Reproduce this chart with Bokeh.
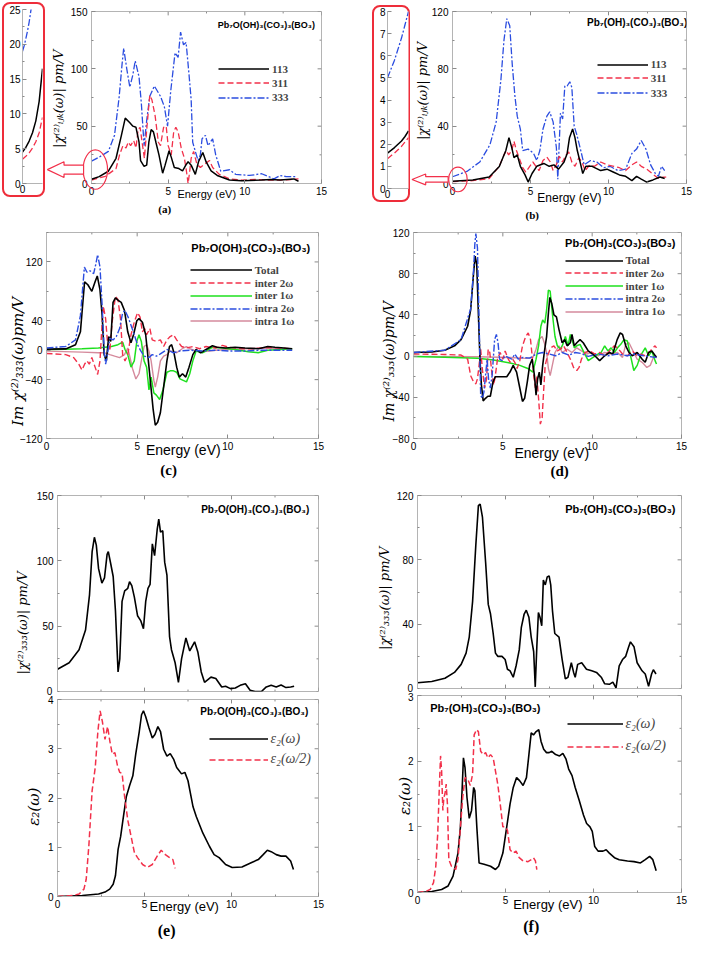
import numpy as np
from bokeh.plotting import figure
from bokeh.layouts import row, column
from bokeh.models import (Range1d, FixedTicker, Label, Legend, LegendItem, Spacer)
from bokeh.embed import file_html
from bokeh.resources import INLINE

# ---------------- data (energy in eV) ----------------
A_113 = [(0,3.7),(0.5,6),(1.1,10.7),(1.6,22),(1.95,42),(2.2,57),(2.5,53),(2.7,50),(2.9,49),(3.1,36),
         (3.2,20),(3.43,15),(3.6,16),(3.74,36),(3.89,47),(4.04,45),(4.2,36),(4.4,25),(4.64,9),(4.8,16),
         (5.06,28.5),(5.2,23),(5.4,14),(5.7,13),(5.94,11),(6.15,16),(6.3,19),(6.5,16),(6.77,8),(6.98,19),
         (7.26,27),(7.47,19),(7.8,11),(8.2,7),(9.0,3),(9.8,2.5),(11.1,3),(11.7,3.5),(12.3,3),(13.2,4),(13.5,2)]
A_311 = [(0,3),(0.9,6.3),(1.6,13),(1.83,25),(2.05,33),(2.25,31),(2.4,36),(2.55,33),(2.75,37.5),(2.9,31),
         (3.04,47),(3.17,49),(3.3,36),(3.45,22),(3.62,50),(3.8,77),(3.94,73),(4.15,59),(4.36,36),(4.5,33),
         (4.7,49),(4.87,50),(5.0,33),(5.2,25),(5.36,45),(5.5,49),(5.65,45),(5.85,31),(6.06,22),(6.2,10),
         (6.3,0),(6.4,10),(6.5,22),(6.66,28),(6.87,17),(7.1,14),(7.38,17),(7.7,20),(7.9,14),(8.33,8),
         (9.0,4),(9.8,3),(10.7,3.5),(11.5,3),(12.3,3),(13.0,3.5),(13.5,4)]
A_333 = [(0,19.5),(0.5,23),(1.1,28),(1.5,42),(1.8,75),(2.0,105),(2.1,118),(2.3,100),(2.5,84),(2.7,95),
         (2.85,107),(3.1,93),(3.25,70),(3.43,33),(3.6,55),(3.8,76),(4.1,85),(4.5,76),(4.75,67),(4.96,50),
         (5.17,81),(5.45,114),(5.65,110),(5.81,132),(6.0,121),(6.17,123),(6.36,95),(6.5,73),(6.6,36),
         (6.77,28),(6.95,20),(7.1,25),(7.21,39),(7.43,42),(7.6,33),(7.9,39),(8.1,25),(8.43,10.7),(9.0,12),
         (9.4,8),(10.3,7),(11.1,8.5),(11.9,4),(12.3,7),(12.7,6),(13.1,6),(13.4,6)]
A_IN_113 = [(0,4.5),(0.2,5.2),(0.4,6.1),(0.6,7.3),(0.8,9.0),(1.0,11.8),(1.2,16.5)]
A_IN_311 = [(0,3.5),(0.2,3.9),(0.4,4.4),(0.6,5.1),(0.8,6.0),(1.0,7.3),(1.2,9.5)]
A_IN_333 = [(0,19),(0.1,19.8),(0.2,20.8),(0.3,21.9),(0.4,23.2),(0.5,24.8),(0.6,26.5)]

B_113 = [(0,1.5),(1.3,2.5),(2.35,4.6),(3.0,11.8),(3.42,23),(3.62,32),(3.8,25),(3.94,18),(4.15,20),
         (4.35,12),(4.65,6),(4.85,1),(5.1,7),(5.4,12),(5.85,14),(6.2,12),(6.5,13),(6.8,10),(7.15,15),
         (7.35,21),(7.5,32),(7.7,38),(7.85,32),(8.0,23),(8.2,14),(8.35,7),(8.55,12),(8.95,12),(9.5,9),
         (9.9,10),(10.3,8),(10.7,6),(11.1,5),(11.5,2),(11.8,5),(12.1,3),(12.45,1),(12.85,2.5),(13.3,4.5),(13.6,3.5)]
B_311 = [(0,1.3),(1.3,2),(2.35,3.5),(3.0,12),(3.3,20),(3.45,23),(3.6,20),(3.8,23),(3.94,29.5),(4.1,23),
         (4.3,17),(4.5,11),(4.7,8),(4.95,12),(5.15,15),(5.35,12),(5.55,9),(5.8,16),(6.05,18.5),(6.27,15),
         (6.45,9),(6.65,13),(6.85,19),(7.05,15),(7.25,19.5),(7.45,22),(7.65,15),(7.85,12),(8.1,18),(8.3,15),
         (8.5,9),(8.8,13),(9.1,12),(9.5,15),(9.9,13),(10.35,12),(10.7,11),(11.1,9),(11.5,13),(11.8,15),
         (12.1,12),(12.45,10),(12.85,6.5),(13.2,3.5),(13.5,4.5),(13.7,4.5)]
B_333 = [(0,4.7),(0.92,8.4),(1.75,15),(2.4,27),(2.8,43),(3.1,72),(3.3,100),(3.48,115),(3.67,110),(3.83,83),
         (4.0,61),(4.15,47),(4.35,38),(4.5,23),(4.85,24),(5.2,21),(5.4,16),(5.6,23),(5.8,38),(6.05,47),
         (6.23,50),(6.45,43),(6.66,25),(6.75,3),(6.92,49),(7.06,45),(7.2,68),(7.35,68),(7.52,71),(7.65,67),
         (7.8,40),(7.97,34),(8.2,24),(8.44,13),(8.85,16),(9.25,15),(9.7,11),(10.1,12),(10.6,9),(11.1,10),
         (11.5,21),(11.8,24),(12.1,30),(12.4,24),(12.7,13),(13.0,7),(13.2,5),(13.4,12),(13.6,9)]
B_IN_113 = [(0,1.6),(0.2,1.72),(0.4,1.85),(0.6,2.0),(0.8,2.15),(1.0,2.35),(1.2,2.6)]
B_IN_311 = [(0,1.35),(0.2,1.48),(0.4,1.6),(0.6,1.75),(0.8,1.9),(1.0,2.1),(1.2,2.3)]
B_IN_333 = [(0,5.0),(0.2,5.4),(0.4,5.8),(0.6,6.3),(0.8,6.8),(1.0,7.4),(1.2,8.0)]

C_TOTAL = [(0,1.5),(1.06,1.8),(1.6,7.5),(1.87,25),(2.1,93),(2.28,89),(2.5,80),(2.68,93),(2.8,101),(2.95,82),
           (3.07,47),(3.18,-6),(3.3,-14.5),(3.43,18.5),(3.54,12),(3.67,65),(3.8,71),(3.94,68),(4.12,65),
           (4.3,54),(4.48,25),(4.66,10),(4.8,21),(4.98,40),(5.1,43),(5.29,38),(5.47,21),(5.6,-10),(5.74,-45),
           (5.88,-80),(6.0,-102),(6.13,-98),(6.28,-85),(6.46,-50),(6.64,-14.5),(6.78,5),(6.9,7.5),(7.03,-3.5),
           (7.18,-23),(7.32,-36.5),(7.5,-32),(7.68,-36.5),(7.86,-23),(8.07,-6),(8.25,1),(8.5,-3.5),(8.8,1),
           (9.15,6),(9.4,4),(9.87,3),(10.4,4),(10.95,3),(11.7,2),(12.2,5),(12.6,4),(13.1,3),(13.55,2)]
C_INTER2 = [(0,-4.4),(1.06,-6),(1.5,-10),(1.78,-19),(1.96,-27),(2.1,-19),(2.23,-14.5),(2.36,-19),(2.5,-10),
            (2.68,-23),(2.82,-33),(2.95,-14.5),(3.04,25),(3.13,60),(3.26,43),(3.36,12),(3.49,-1),(3.62,38),
            (3.8,73),(3.94,69),(4.08,43),(4.2,-6),(4.33,-14.5),(4.48,-6),(4.66,21),(4.84,38),(5.02,51),
            (5.16,45),(5.29,25),(5.41,29.5),(5.52,21),(5.7,29.5),(5.83,14),(6.06,12),(6.28,14),(6.46,5),
            (6.64,14),(6.82,18.5),(7.0,21),(7.18,14),(7.45,5),(7.7,3),(8.07,5),(8.44,2),(8.8,5),(9.33,3),
            (9.7,6.5),(10.05,4),(10.77,2),(11.5,2),(12.2,4),(12.9,3),(13.55,2)]
C_INTER1 = [(0,1),(1.06,1.3),(1.96,2),(2.86,3),(3.58,5),(3.94,7.5),(4.2,11),(4.33,1),(4.48,-6),(4.66,-23),
            (4.84,-14.5),(4.98,12),(5.1,21),(5.23,12),(5.38,-14.5),(5.52,-23),(5.65,-54),(5.77,-36.5),
            (5.92,-58),(6.06,-61),(6.24,-67),(6.42,-54),(6.64,-30),(6.82,-28),(7.0,-28),(7.18,-30),(7.36,-39),
            (7.54,-41),(7.72,-43),(7.9,-32),(8.07,-14.5),(8.25,-1),(8.6,-3.5),(9.15,4),(9.7,3),(10.4,1),
            (11.13,-2),(11.67,-3.5),(12.2,0),(12.93,1),(13.55,2)]
C_INTRA2 = [(0,3),(1.06,5),(1.6,14),(1.87,47),(2.09,113),(2.23,106),(2.4,108),(2.6,104),(2.72,117),(2.82,130),
            (2.95,113),(3.07,60),(3.18,-1),(3.26,-19),(3.36,-6),(3.49,16),(3.67,14),(3.85,18.5),(4.03,29.5),
            (4.2,51),(4.33,54),(4.5,45),(4.66,34),(4.84,21),(5.02,7.5),(5.2,-1),(5.38,-8),(5.65,-10),(5.83,-6),
            (6.06,-8),(6.28,-5),(6.64,1),(7.0,-3.5),(7.36,-1),(7.9,0),(8.6,-1),(9.33,0),(10.05,-1),(10.95,-1),
            (11.85,0),(12.75,0),(13.55,0)]
C_INTRA1 = [(0,-1.3),(1.96,-2.6),(2.86,-3.5),(3.22,-3.5),(3.49,-6),(3.76,-8),(4.03,-10),(4.3,-6),(4.48,3),
            (4.57,-6),(4.75,-25.5),(4.93,-39),(5.1,-32),(5.23,-14.5),(5.38,5),(5.52,7.5),(5.65,-1),(5.77,-14.5),
            (5.92,-41),(6.0,-50),(6.13,-36.5),(6.28,-14.5),(6.46,-8),(6.64,-6),(6.82,-1),(7.18,-3.5),(7.54,3),
            (7.72,5),(7.9,2),(8.25,-1),(8.6,-2),(9.33,0),(10.05,1),(10.95,2),(11.85,3),(12.75,2),(13.55,1)]

D_TOTAL = [(0,3.5),(1.02,4),(1.75,5.7),(2.3,10),(2.66,16),(3.03,29),(3.2,45),(3.36,80),(3.45,97),(3.54,89),
           (3.63,41.6),(3.72,-3),(3.8,-28),(3.9,-43.5),(4.03,-41),(4.16,-39),(4.3,-39),(4.45,-25),(4.58,-20),
           (4.85,-20),(5.22,-20),(5.4,-15.5),(5.58,-9),(5.77,-15.5),(5.95,-31),(6.1,-44),(6.22,-41),(6.37,-25),
           (6.5,-9),(6.64,-3),(6.77,-19),(6.86,-38),(6.95,-22),(7.04,-15.5),(7.13,-28),(7.23,-9),(7.32,3.5),
           (7.45,19),(7.55,41.6),(7.63,57),(7.74,51),(7.86,40),(8.0,38),(8.14,26),(8.32,13),(8.47,16),(8.6,10),
           (8.78,13),(8.87,21),(9.0,10),(9.14,13),(9.32,16),(9.5,13),(9.78,5),(10.15,0.3),(10.42,-4.4),
           (10.7,0.3),(10.97,3.5),(11.15,2),(11.4,16),(11.57,22.5),(11.7,21),(11.88,10),(12.06,3.5),
           (12.24,0.3),(12.52,3.5),(12.8,-3),(12.97,-6),(13.16,3.5),(13.34,5),(13.6,-1.3)]
D_INTER2 = [(0,2),(1.75,1.6),(2.66,1),(3.03,-3),(3.2,-19),(3.36,-25),(3.49,-27),(3.58,-22),(3.67,-9),
            (3.76,6.7),(3.85,-12),(3.98,-31),(4.09,-22),(4.18,6.7),(4.27,3.5),(4.4,-19),(4.49,-28),(4.58,-19),
            (4.7,-3),(4.85,3.5),(5.0,-3),(5.13,5),(5.26,-1.3),(5.4,-6),(5.55,-3),(5.67,-6),(5.8,-12),
            (5.95,-4.4),(6.1,10),(6.28,19),(6.42,22.5),(6.55,16),(6.64,0.3),(6.73,-19),(6.82,-31),(6.9,-19),
            (7.0,-41),(7.1,-66),(7.2,-60),(7.28,-35),(7.37,-9),(7.5,0.3),(7.68,8),(7.86,10),(8.05,5),
            (8.23,6.7),(8.4,10),(8.6,3.5),(8.78,-3),(8.96,-11),(9.14,-14),(9.27,-11),(9.4,-3),(9.6,3.5),
            (9.87,5),(10.15,2),(10.42,3.5),(10.7,0.3),(10.97,5),(11.24,10),(11.42,8),(11.7,2),(11.97,0.3),
            (12.24,5),(12.52,0.3),(12.7,2),(12.97,0.3),(13.25,5),(13.52,10),(13.6,8)]
D_INTER1 = [(0,-0.3),(1.75,-1),(3.58,-2.2),(4.49,-3.8),(5.4,-6.7),(5.95,-9),(6.4,-12),(6.68,-15.5),(6.86,-3),
            (7.0,10),(7.13,29),(7.23,35),(7.35,32),(7.45,45),(7.55,64),(7.65,63),(7.77,41.6),(7.92,19),
            (8.05,10),(8.23,6.7),(8.36,11.4),(8.5,19),(8.65,10),(8.78,21),(8.87,16),(9.0,8),(9.14,10),
            (9.32,11.4),(9.5,5),(9.78,-4.4),(10.05,-1.3),(10.33,2),(10.5,3.5),(10.7,10),(10.88,5),(11.06,8),
            (11.24,3.5),(11.42,8),(11.6,11.4),(11.78,16),(11.97,14.6),(12.15,0.3),(12.33,-14),(12.52,-9),
            (12.7,0.3),(12.97,8),(13.16,0.3),(13.34,5),(13.52,-4.4),(13.6,-7.6)]
D_INTRA2 = [(0,3.5),(1.75,5.7),(2.66,16),(3.2,46),(3.36,83),(3.43,108),(3.49,119),(3.58,105),(3.67,35),
            (3.76,-38),(3.85,-41),(3.94,-35),(4.03,-19),(4.12,-3),(4.2,-22),(4.3,-31),(4.4,-19),(4.54,16),
            (4.64,21),(4.73,13),(4.82,-3),(4.95,-4.4),(5.13,0.3),(5.3,-1.3),(5.5,-3),(5.67,2),(5.86,-3),
            (6.13,-1.3),(6.5,-2),(6.86,2),(7.23,3.5),(7.6,2),(7.96,0.3),(8.32,3.5),(8.7,1),(9.05,3.5),(9.4,2.5),
            (9.78,-0.3),(10.33,2),(10.88,0.3),(11.42,2),(11.97,0.3),(12.33,2),(12.88,0.3),(13.6,-1.3)]
D_INTRA1 = [(0,-0.3),(3.58,-0.6),(5.4,-1.3),(6.3,-2.2),(6.68,-1.3),(6.86,6.7),(7.0,16),(7.2,19),(7.32,13),
            (7.45,3.5),(7.55,-12),(7.65,-19),(7.77,-9),(7.92,3.5),(8.14,10),(8.32,3.5),(8.6,6.7),(8.87,3.5),
            (9.14,8),(9.4,5),(9.69,2),(9.96,3.5),(10.33,0.3),(10.7,3.5),(11.06,2),(11.42,3.5),(11.7,-1.3),
            (11.88,11.4),(12.06,13),(12.24,6.7),(12.52,-3),(12.8,-6),(13.06,-11),(13.25,-9),(13.43,-1.3),(13.6,0.3)]

E_CHI = [(0,17),(0.67,22),(1.24,32),(1.61,47),(1.84,74),(1.99,107),(2.12,118),(2.23,112),(2.36,94),(2.55,83),
         (2.7,87),(2.85,105),(2.92,107),(3.07,97),(3.2,88),(3.33,62),(3.48,15),(3.58,25),(3.71,69),(3.86,77),
         (4.04,79),(4.14,84),(4.27,81),(4.42,72),(4.6,58),(4.79,54),(4.94,48),(5.07,69),(5.2,79),(5.32,82),
         (5.45,113),(5.58,104),(5.73,124),(5.82,132),(5.92,122),(6.05,123),(6.16,99),(6.29,89),(6.44,42),
         (6.55,32),(6.76,22),(6.95,7),(7.13,25),(7.38,41),(7.6,31),(7.88,38),(8.07,30),(8.26,15),(8.45,7),
         (8.82,11),(9.1,10),(9.44,3.5),(9.66,4),(9.94,2.2),(10.22,2.7),(10.5,4.7),(10.8,6),(11.07,1),
         (11.35,0),(11.72,0),(12.0,3.5),(12.28,4.7),(12.57,3.5),(12.85,5),(13.13,3),(13.4,3.5),(13.6,4)]
E_EPS_W = [(0,0),(1.42,0.02),(2.36,0.05),(2.73,0.09),(3.0,0.15),(3.2,0.25),(3.33,0.42),(3.48,0.95),
           (3.63,1.22),(3.76,1.55),(3.95,2.02),(4.14,2.25),(4.33,2.45),(4.5,2.9),(4.7,3.35),(4.83,3.69),
           (4.94,3.77),(5.07,3.65),(5.26,3.42),(5.45,3.22),(5.6,3.29),(5.77,3.45),(5.92,3.35),(6.1,2.99),
           (6.29,2.85),(6.48,2.9),(6.67,2.79),(6.85,2.62),(7.13,2.49),(7.32,2.52),(7.5,2.35),(7.79,1.82),
           (7.98,1.62),(8.35,1.29),(8.73,1.02),(9.0,0.85),(9.29,0.79),(9.66,0.65),(10.04,0.59),(10.6,0.6),
           (11.16,0.69),(11.54,0.75),(11.82,0.85),(12.06,0.94),(12.28,0.91),(12.57,0.85),(12.85,0.82),
           (13.13,0.82),(13.4,0.72),(13.56,0.55)]
E_EPS_W2 = [(0,0),(0.86,0.02),(1.24,0.05),(1.52,0.15),(1.65,0.35),(1.8,1.02),(1.99,2.15),(2.17,2.62),
            (2.32,3.35),(2.45,3.77),(2.58,3.55),(2.73,3.19),(2.88,3.45),(3.01,3.15),(3.15,2.89),(3.3,2.92),
            (3.45,2.65),(3.58,2.52),(3.71,2.5),(3.86,2.02),(4.04,1.55),(4.23,1.22),(4.42,0.89),(4.6,0.79),
            (4.89,0.65),(5.17,0.59),(5.45,0.65),(5.73,0.82),(5.96,0.94),(6.2,0.85),(6.44,0.79),(6.63,0.75),(6.76,0.57)]

F_CHI = [(0,3.6),(0.81,4.4),(1.56,6.4),(2.1,10),(2.48,15),(2.76,22),(2.94,32),(3.13,54),(3.31,88.5),
         (3.46,113.7),(3.56,114.7),(3.69,106.6),(3.87,78.5),(4.02,52.3),(4.15,46.3),(4.3,34.2),(4.43,22),
         (4.56,20),(4.8,20),(4.98,18),(5.11,12),(5.26,11),(5.44,7),(5.6,14),(5.78,24),(5.9,38),(6.06,46.3),
         (6.18,48.7),(6.33,44.3),(6.46,32),(6.6,23),(6.69,1),(6.78,26),(6.87,47.3),(6.96,44.3),(7.06,39),
         (7.15,67.4),(7.26,64.4),(7.37,69.4),(7.48,70),(7.57,64.4),(7.67,48.3),(7.8,34.2),(8.04,32),(8.22,18),
         (8.4,6),(8.55,7),(8.74,16),(8.87,10),(8.96,7),(9.1,15),(9.33,16),(9.6,12),(9.9,11),(10.17,10),
         (10.44,7),(10.63,3),(10.9,2.6),(11.1,4),(11.28,0.4),(11.46,14),(11.65,18),(11.83,20),(12.0,26),
         (12.1,29),(12.3,26),(12.48,16),(12.76,11),(12.94,9),(13.13,1.4),(13.3,9),(13.4,11.7),(13.55,9)]
F_EPS_W = [(0,0),(0.81,0.015),(1.37,0.045),(1.74,0.1),(2.02,0.25),(2.3,0.6),(2.44,1.0),(2.54,1.6),(2.61,2.05),
           (2.7,1.9),(2.81,1.45),(2.94,1.13),(3.07,1.25),(3.19,1.6),(3.26,1.55),(3.37,1.0),(3.5,0.45),
           (3.78,0.43),(4.15,0.4),(4.43,0.35),(4.61,0.4),(4.85,0.6),(5.07,1.0),(5.26,1.35),(5.44,1.6),
           (5.63,1.75),(5.81,1.7),(6.0,1.63),(6.19,1.75),(6.33,2.1),(6.46,2.43),(6.59,2.4),(6.74,2.45),
           (6.89,2.48),(7.02,2.3),(7.17,2.18),(7.33,2.13),(7.48,2.13),(7.63,2.15),(7.85,2.1),(8.07,2.08),
           (8.26,2.12),(8.44,2.03),(8.59,1.88),(8.78,1.78),(8.96,1.6),(9.19,1.4),(9.43,1.18),(9.61,1.05),
           (9.8,1.0),(9.93,0.93),(10.07,0.7),(10.26,0.63),(10.54,0.63),(10.72,0.65),(10.9,0.6),(11.19,0.53),
           (11.46,0.5),(11.93,0.48),(12.3,0.47),(12.67,0.45),(12.94,0.5),(13.19,0.55),(13.37,0.5),(13.56,0.33)]
F_EPS_W2 = [(0,0),(0.44,0.015),(0.72,0.045),(0.91,0.15),(1.04,0.4),(1.15,0.9),(1.24,1.6),(1.31,2.08),
            (1.37,1.85),(1.44,1.25),(1.5,1.45),(1.56,1.5),(1.63,1.65),(1.7,1.35),(1.78,0.5),(1.93,0.4),
            (2.17,0.35),(2.3,0.5),(2.44,1.0),(2.57,1.45),(2.7,1.75),(2.85,1.73),(3.0,1.63),(3.13,1.8),
            (3.22,2.4),(3.35,2.48),(3.46,2.45),(3.59,2.15),(3.74,2.1),(3.87,2.13),(4.0,2.05),(4.15,2.1),
            (4.3,2.05),(4.43,1.85),(4.56,1.65),(4.7,1.35),(4.85,1.0),(4.98,1.0),(5.11,0.95),(5.26,0.65),
            (5.44,0.6),(5.6,0.63),(5.78,0.53),(6.0,0.48),(6.28,0.47),(6.46,0.5),(6.59,0.53),(6.7,0.48),(6.78,0.35)]

# tick values
X_MAJOR = [0, 5, 10, 15]
X_MINOR = [2.5, 7.5, 12.5]

TITLE_A = "Pb\u2087O(OH)\u2083(CO\u2083)\u2083(BO\u2083)"
TITLE_B = "Pb\u2087(OH)\u2083(CO\u2083)\u2083(BO\u2083)"
COMP_LABELS = ["113", "311", "333"]
CONTRIB_LABELS = ["Total", "inter 2\u03c9", "inter 1\u03c9", "intra 2\u03c9", "intra 1\u03c9"]
EPS_LABELS = ["\u03b5\u2082(\u03c9)", "\u03b5\u2082(\u03c9/2)"]
YLAB_IJK = "|\u03c7\u207d\u00b2\u207e\u1d62\u2c7c\u2096(\u03c9)| pm/V"
YLAB_333 = "|\u03c7\u207d\u00b2\u207e\u2083\u2083\u2083(\u03c9)| pm/V"
YLAB_IM = "Im \u03c7\u207d\u00b2\u207e\u2083\u2083\u2083(\u03c9)pm/V"
YLAB_EPS = "\u03b5\u2082(\u03c9)"
XLAB = "Energy (eV)"

# ---------------- styling ----------------
BLACK = "#000000"
RED = "#f2304a"
BLUE = "#2b4de0"
GREEN = "#1ee01e"
PINK = "#d58a9c"
FRAME = "#b4b4b4"
TICK = "#8a8a8a"
SANS = "Liberation Sans"
SERIF = "Liberation Serif"
MATH = "DejaVu Serif"
DASH = "6 3"
DASHDOT = "7 2 2 2"

KX = 693 / 709
KY = 939 / 955


def wx(a, b):
    return round(b * KX) - round(a * KX)


def hy(a, b):
    return round(b * KY) - round(a * KY)


def style_axis(ax, major, minor, standoff=3):
    ax.ticker = FixedTicker(ticks=major, minor_ticks=minor)
    ax.axis_line_color = FRAME
    ax.major_tick_line_color = TICK
    ax.minor_tick_line_color = TICK
    ax.major_tick_in = 4
    ax.major_tick_out = 0
    ax.minor_tick_in = 2
    ax.minor_tick_out = 0
    ax.major_label_text_font = SANS
    ax.major_label_text_color = "black"
    ax.major_label_text_font_size = "10px"
    ax.major_label_standoff = standoff


class Panel:
    def __init__(self, canvas, frame, xr, yr, xmaj, xmin, ymaj, ymin, xlab=True, box=True,
                 inner_ticks=True, standoff=3):
        cx0, cy0, cx1, cy1 = canvas
        fx0, fy0, fx1, fy1 = frame
        self.frame, self.xr, self.yr = frame, xr, yr
        p = figure(width=wx(cx0, cx1), height=hy(cy0, cy1),
                   x_range=Range1d(*xr), y_range=Range1d(*yr),
                   min_border_left=wx(cx0, fx0), min_border_right=wx(fx1, cx1),
                   min_border_top=hy(cy0, fy0), min_border_bottom=hy(fy1, cy1),
                   output_backend="svg", toolbar_location=None, tools="")
        p.grid.visible = False
        p.outline_line_color = FRAME if box else None
        p.background_fill_color = "white"
        p.border_fill_color = "white"
        self.p = p
        if xlab:
            style_axis(p.xaxis[0], xmaj, xmin, standoff)
        else:
            p.xaxis.visible = False
            self.tick_marks("bottom", xmaj, xmin)
        style_axis(p.yaxis[0], ymaj, ymin, standoff + 1)
        if inner_ticks:
            self.tick_marks("top", xmaj, xmin)
            self.tick_marks("right", ymaj, ymin)

    def tick_marks(self, side, major, minor):
        fx0, fy0, fx1, fy1 = self.frame
        ppx = (fx1 - fx0) / (self.xr[1] - self.xr[0])
        ppy = (fy1 - fy0) / (self.yr[1] - self.yr[0])
        for vals, length in ((major, 4), (minor, 2)):
            n = len(vals)
            if n == 0:
                continue
            if side in ("top", "bottom"):
                y0 = self.yr[1] if side == "top" else self.yr[0]
                sgn = -1 if side == "top" else 1
                self.p.segment(x0=vals, y0=[y0] * n, x1=vals, y1=[y0 + sgn * length / ppy] * n,
                               line_color=TICK, line_width=1)
            else:
                x0 = self.xr[1]
                self.p.segment(x0=[x0] * n, y0=vals, x1=[x0 - length / ppx] * n, y1=vals,
                               line_color=TICK, line_width=1)

    def line(self, data, color, width=1.4, dash="solid"):
        xs, ys = zip(*data)
        return self.p.line(list(xs), list(ys), line_color=color, line_width=width, line_dash=dash)

    def text(self, s, px, py, size, font=SANS, style="bold", align="left"):
        fx0, fy0, fx1, fy1 = self.frame
        x = self.xr[0] + (px - fx0) / (fx1 - fx0) * (self.xr[1] - self.xr[0])
        y = self.yr[0] + (fy1 - py) / (fy1 - fy0) * (self.yr[1] - self.yr[0])
        self.p.add_layout(Label(x=x, y=y, text=s, text_font=font, text_font_size=f"{size}px",
                                text_font_style=style, text_align=align, text_baseline="middle",
                                text_color="black"))

    def legend(self, labels, renderers, x0, x1, rows, size, style="bold", font=SERIF):
        fx0, fy0, fx1, fy1 = self.frame
        H = round(size * 1.2)
        for lab, r, yc in zip(labels, renderers, rows):
            leg = Legend(items=[LegendItem(label=lab, renderers=[r])],
                         location=((x0 - fx0) * KX, (fy1 - yc) * KY - H / 2),
                         orientation="vertical", padding=0, margin=0, spacing=0,
                         border_line_color=None, background_fill_alpha=0,
                         glyph_width=round((x1 - x0) * KX), glyph_height=H,
                         label_height=H, label_standoff=3,
                         label_text_font=font, label_text_font_size=f"{size}px",
                         label_text_font_style=style)
            self.p.add_layout(leg)


INSET_STYLE = {"outline": "2px solid #ee2d3a", "outline-offset": "-2px", "border-radius": "8px"}

# ---------------- (a) ----------------
ia = Panel((2, 2, 46, 200), (22, 9, 43, 186), (0, 1.2), (0, 25), [0], [], [0, 5, 10, 15, 20, 25],
           [2.5, 7.5, 12.5, 17.5, 22.5], box=False, inner_ticks=False, standoff=1)
ia.line(A_IN_113, BLACK, 1.5)
ia.line(A_IN_311, RED, 1.3, DASH)
ia.line(A_IN_333, BLUE, 1.3, DASHDOT)
ia.p.border_fill_alpha = 0
ia.p.styles = INSET_STYLE

pa = Panel((46, 0, 355, 225), (93, 9, 328, 186), (0, 15), (0, 150), X_MAJOR, X_MINOR,
           [0, 50, 100, 150], [25, 75, 125])
ra3 = pa.line(A_333, BLUE, 1.3, DASHDOT)
ra2 = pa.line(A_311, RED, 1.3, DASH)
ra1 = pa.line(A_113, BLACK, 1.5)
pa.legend(COMP_LABELS, [ra1, ra2, ra3], 223, 275, [70, 84, 99], 11)
pa.text(TITLE_A, 222, 23, 9)

# ---------------- (b) ----------------
ib = Panel((381, 5, 419, 205), (396, 11, 417, 191), (0, 1.2), (0, 8), [0], [], list(range(9)), [],
           box=False, inner_ticks=False, standoff=1)
ib.line(B_IN_113, BLACK, 1.5)
ib.line(B_IN_311, RED, 1.3, DASH)
ib.line(B_IN_333, BLUE, 1.3, DASHDOT)
ib.p.border_fill_alpha = 0
ib.p.styles = INSET_STYLE

pb = Panel((419, 0, 709, 225), (462, 11, 702, 191), (0, 15), (0, 120), X_MAJOR, X_MINOR,
           [0, 40, 80, 120], [20, 60, 100])
rb3 = pb.line(B_333, BLUE, 1.3, DASHDOT)
rb2 = pb.line(B_311, RED, 1.3, DASH)
rb1 = pb.line(B_113, BLACK, 1.5)
pb.legend(COMP_LABELS, [rb1, rb2, rb3], 610, 662, [70, 84, 99], 11)
pb.text(TITLE_B, 600, 22, 10)

# ---------------- (c) ----------------
pc = Panel((0, 225, 355, 485), (47, 232, 325, 445), (0, 15), (-120, 160), X_MAJOR, X_MINOR,
           [-120, -40, 0, 40, 120], [-80, 80, 160])
rc5 = pc.line(C_INTRA1, PINK, 1.4)
rc3 = pc.line(C_INTER1, GREEN, 1.5)
rc2 = pc.line(C_INTER2, RED, 1.4, DASH)
rc1 = pc.line(C_TOTAL, BLACK, 1.6)
rc4 = pc.line(C_INTRA2, BLUE, 1.4, DASHDOT)
pc.legend(CONTRIB_LABELS, [rc1, rc2, rc3, rc4, rc5], 194, 257, [274, 287, 300, 313, 326], 11)
pc.text(TITLE_A, 195, 248, 11)

# ---------------- (d) ----------------
pd_ = Panel((355, 225, 709, 485), (423, 236, 697, 446), (0, 15), (-80, 120), X_MAJOR, X_MINOR,
            [-80, -40, 0, 40, 80, 120], [-60, -20, 20, 60, 100])
rd5 = pd_.line(D_INTRA1, PINK, 1.4)
rd3 = pd_.line(D_INTER1, GREEN, 1.5)
rd2 = pd_.line(D_INTER2, RED, 1.4, DASH)
rd1 = pd_.line(D_TOTAL, BLACK, 1.6)
rd4 = pd_.line(D_INTRA2, BLUE, 1.4, DASHDOT)
pd_.legend(CONTRIB_LABELS, [rd1, rd2, rd3, rd4, rd5], 578, 637, [265, 278, 291, 304, 317], 11)
pd_.text(TITLE_B, 578, 247, 11)

# ---------------- (e) ----------------
eu = Panel((0, 485, 355, 706), (58, 503, 325, 703), (0, 15), (0, 150), X_MAJOR, X_MINOR,
           [50, 100, 150], [0, 25, 75, 125], xlab=False)
eu.line(E_CHI, BLACK, 1.6)
eu.text(TITLE_A, 205, 517, 10)

el = Panel((0, 706, 355, 955), (58, 711, 325, 911), (0, 15), (0, 4), X_MAJOR, X_MINOR,
           [0, 1, 2, 3, 4], [0.5, 1.5, 2.5, 3.5])
re1 = el.line(E_EPS_W, BLACK, 1.6)
re2 = el.line(E_EPS_W2, RED, 1.5, DASH)
el.legend(EPS_LABELS, [re1, re2], 213, 273, [751, 772], 14, style="italic")
el.text(TITLE_A, 204, 723, 10)

# ---------------- (f) ----------------
fu = Panel((355, 485, 709, 704), (427, 503, 697, 700), (0, 15), (0, 120), X_MAJOR, X_MINOR,
           [40, 80, 120], [0, 20, 60, 100], xlab=False)
fu.line(F_CHI, BLACK, 1.6)
fu.text(TITLE_B, 578, 517, 11)

fl = Panel((355, 704, 709, 955), (427, 707, 697, 907), (0, 15), (0, 3), X_MAJOR, X_MINOR,
           [0, 1, 2, 3], [0.5, 1.5, 2.5])
rf1 = fl.line(F_EPS_W, BLACK, 1.6)
rf2 = fl.line(F_EPS_W2, RED, 1.5, DASH)
fl.legend(EPS_LABELS, [rf1, rf2], 580, 637, [736, 759], 14, style="italic")
fl.text(TITLE_B, 440, 720, 11)

# ---------------- overlay: texts and marks that lie outside the plot frames ----------------
ov_h = hy(0, 955)
ov = figure(width=wx(0, 709), height=ov_h, x_range=Range1d(0, 709), y_range=Range1d(955, 0),
            min_border=0, output_backend="svg", toolbar_location=None, tools="",
            x_axis_type=None, y_axis_type=None, margin=(-ov_h, 0, 0, 0))
ov.outline_line_color = None
ov.background_fill_alpha = 0
ov.border_fill_alpha = 0


def ov_text(s, x, y, size, font=SANS, style="normal", vertical=False, align="center"):
    ov.add_layout(Label(x=x, y=y, text=s, text_font=font, text_font_size=f"{size}px",
                        text_font_style=style, text_align=align, text_baseline="middle",
                        angle=(np.pi / 2 if vertical else 0.0), text_color="black"))


# axis titles
for s, x, y, size in [(YLAB_IJK, 59, 100, 13), (YLAB_IJK, 432, 92, 13),
                      (YLAB_IM, 18, 367, 15), (YLAB_IM, 397, 367, 14),
                      (YLAB_333, 22, 633, 13), (YLAB_333, 393, 608, 13),
                      (YLAB_EPS, 34, 820, 15), (YLAB_EPS, 414, 809, 15)]:
    ov_text(s, x, y, size, font=MATH, style="italic", vertical=True)
for x, y, size in [(211, 197, 11), (582, 201, 12), (187, 457, 14), (564, 460, 14),
                   (188, 921, 13), (560, 919, 13)]:
    ov_text(XLAB, x, y, size)
for s, x, y, size in [("(a)", 168, 212, 11), ("(b)", 544, 218, 11), ("(c)", 172, 477, 15),
                      ("(d)", 572, 479, 15), ("(e)", 170, 946, 16), ("(f)", 543, 942, 16)]:
    ov_text(s, x, y, size, font=SERIF, style="bold")
# zero labels of the upper (e)/(f) plots, which sit on the seam between the two stacked plots
ov_text("0", 53, 702, 10, align="right")
ov_text("0", 422, 699, 10, align="right")

# zoom marks: ellipse around the low-energy region and a hollow arrow to the inset
for cx, cy, w, h, tip, head, tail, hh, sh in [(97, 172, 25, 40, 48, 65, 85, 8, 4.5),
                                              (468, 182, 19, 25, 421, 435, 458, 5.5, 2.8)]:
    ov.ellipse(x=[cx], y=[cy], width=w, height=h, fill_alpha=0, line_color=RED, line_width=1.2)
    xs = [tip, head, head, tail, tail, head, head]
    ys = [cy, cy - hh, cy - sh, cy - sh, cy + sh, cy + sh, cy + hh]
    ov.patch(xs, ys, fill_color="white", line_color=RED, line_width=1.2)

# ---------------- layout ----------------
top_row = row(Spacer(width=wx(0, 2), height=10),
              column(Spacer(width=10, height=hy(0, 2)), ia.p),
              pa.p,
              Spacer(width=wx(355, 381), height=10),
              column(Spacer(width=10, height=hy(0, 5)), ib.p),
              pb.p)
mid_row = row(pc.p, pd_.p)
bot_row = row(column(eu.p, el.p), column(fu.p, fl.p))
page = column(top_row, mid_row, bot_row, ov)

open("out.html", "w").write(file_html(page, INLINE))
